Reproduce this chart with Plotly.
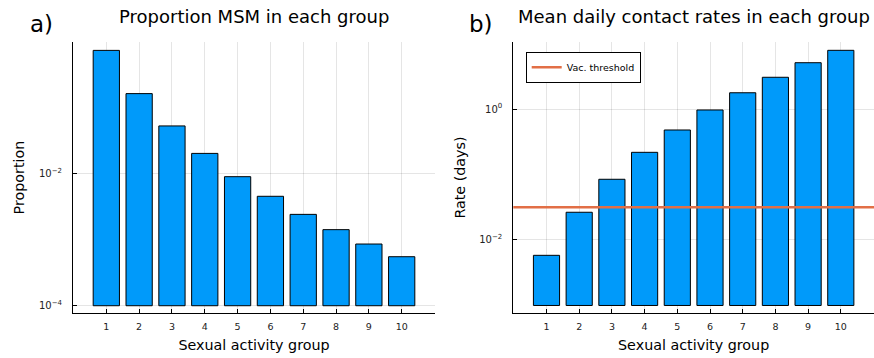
import plotly.graph_objects as go

groups = list(range(1, 11))
prop_msm = [0.72, 0.16, 0.052, 0.020, 0.0089, 0.0045, 0.0024, 0.00141, 0.000855, 0.00055]
contact_rates = [0.00583, 0.0265, 0.0845, 0.218, 0.478, 0.966, 1.77, 3.05, 5.09, 7.87]
vac_threshold = 0.0316
base_a = 1e-4
base_b = 1e-3

W, H = 874, 358
BLUE = "#009afa"
ORANGE = "#e26f46"
FONT = "DejaVu Sans"

fig = go.Figure()
fig.add_trace(go.Bar(
    x=groups, y=[v - base_a for v in prop_msm], base=base_a, width=0.8,
    marker=dict(color=BLUE, line=dict(color="black", width=1)),
    showlegend=False, xaxis="x", yaxis="y"))
fig.add_trace(go.Bar(
    x=groups, y=[v - base_b for v in contact_rates], base=base_b, width=0.8,
    marker=dict(color=BLUE, line=dict(color="black", width=1)),
    showlegend=False, xaxis="x2", yaxis="y2"))
fig.add_trace(go.Scatter(
    x=[-1, 12], y=[vac_threshold, vac_threshold], mode="lines",
    line=dict(color=ORANGE, width=2.5), name="Vac. threshold",
    showlegend=True, xaxis="x2", yaxis="y2"))

ydom = [1 - 313 / H, 1 - 42 / H]
common_x = dict(
    range=[-0.015, 11.015], tickvals=groups, ticktext=[str(g) for g in groups],
    showgrid=True, gridcolor="rgba(0,0,0,0.1)", gridwidth=1,
    showline=True, linecolor="black", linewidth=1, mirror=False,
    ticks="inside", ticklen=4, tickcolor="black", zeroline=False,
    ticklabelstandoff=5,
    tickfont=dict(size=9.5, color="#222", family=FONT),
    title=dict(text="Sexual activity group", font=dict(size=14.3, family=FONT, color="black"), standoff=8),
)
common_y = dict(
    type="log", showgrid=True, gridcolor="rgba(0,0,0,0.1)", gridwidth=1,
    showline=True, linecolor="black", linewidth=1, mirror=False,
    ticks="inside", ticklen=4, tickcolor="black", zeroline=False,
    ticklabelstandoff=8,
    tickfont=dict(size=10, color="#222", family=FONT),
)

fig.update_layout(
    width=W, height=H,
    margin=dict(l=0, r=0, t=0, b=0),
    paper_bgcolor="white", plot_bgcolor="white",
    font=dict(family=FONT, color="black"),
    barmode="overlay",
    xaxis=dict(domain=[73 / W, 435 / W], anchor="y", **common_x),
    yaxis=dict(domain=ydom, anchor="x", range=[-4.11, -0.016],
               tickvals=[1e-4, 1e-2], ticktext=["10<sup>−4</sup>", "10<sup>−2</sup>"],
               title=dict(text="Proportion", font=dict(size=14.3, family=FONT), standoff=10),
               **common_y),
    xaxis2=dict(domain=[513.3 / W, 1.0], anchor="y2", **common_x),
    yaxis2=dict(domain=ydom, anchor="x2", range=[-3.115, 1.023],
                tickvals=[1e-2, 1], ticktext=["10<sup>−2</sup>", "10<sup>0</sup>"],
                title=dict(text="Rate (days)", font=dict(size=14.3, family=FONT), standoff=10),
                **common_y),
    legend=dict(x=525.7 / W, y=1 - 51.7 / H, xanchor="left", yanchor="top",
                bgcolor="white", bordercolor="black", borderwidth=1,
                font=dict(size=9.5, family=FONT), itemwidth=30,
                tracegroupgap=0),
    annotations=[
        dict(text="Proportion MSM in each group", x=254 / W, y=1 - 17 / H, xref="paper", yref="paper",
             xanchor="center", yanchor="middle", showarrow=False, font=dict(size=18, family=FONT)),
        dict(text="Mean daily contact rates in each group", x=694 / W, y=1 - 17 / H, xref="paper", yref="paper",
             xanchor="center", yanchor="middle", showarrow=False, font=dict(size=18, family=FONT)),
        dict(text="a)", x=41 / W, y=1 - 24 / H, xref="paper", yref="paper",
             xanchor="center", yanchor="middle", showarrow=False, font=dict(size=23, family=FONT)),
        dict(text="b)", x=481 / W, y=1 - 24 / H, xref="paper", yref="paper",
             xanchor="center", yanchor="middle", showarrow=False, font=dict(size=23, family=FONT)),
    ],
)

fig.write_html("out.html")
